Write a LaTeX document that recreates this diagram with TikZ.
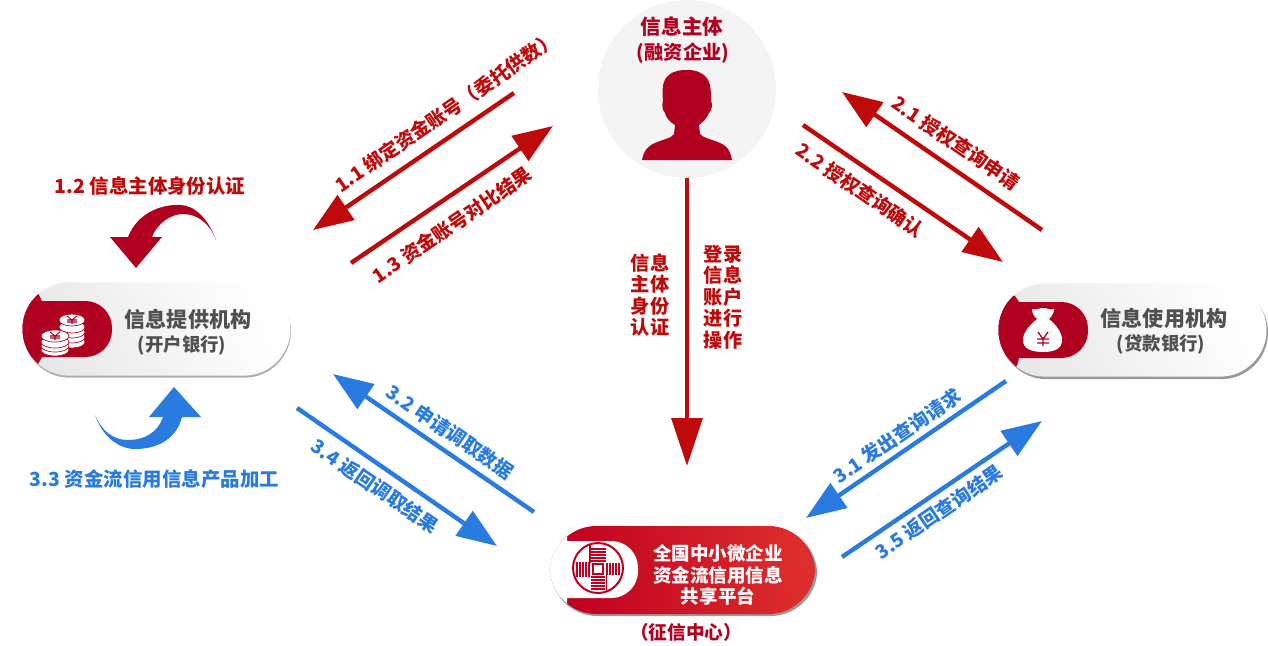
\documentclass[tikz,border=0pt]{standalone}
\usepackage{fontspec}
\setmainfont{Noto Sans CJK SC}
\usetikzlibrary{arrows.meta,calc}
\definecolor{dred}{HTML}{B0001F}
\definecolor{ared}{HTML}{BE0A0A}
\definecolor{lblue}{HTML}{2A7BE0}
\definecolor{gtxt}{HTML}{505050}
\definecolor{pillred}{HTML}{C00020}
\definecolor{pillred2}{HTML}{DC2E2C}
\newcommand{\fpx}[1]{\fontsize{#1}{#1}\selectfont\bfseries}
\tikzset{
  redarrow/.style={draw=ared,line width=3.3pt,-{Triangle[length=30pt,width=22pt]}},
  bluearrow/.style={draw=lblue,line width=3.3pt,-{Triangle[length=30pt,width=22pt]}},
  downarrow/.style={draw=ared,line width=3.3pt,-{Triangle[length=36pt,width=23pt]}},
  redlabel/.style={text=ared,font=\fpx{14.4},inner sep=0pt},
  bluelabel/.style={text=lblue,font=\fpx{14.4},inner sep=0pt},
  vlabel/.style={text=ared,font=\fpx{14.4},inner sep=0pt,align=center},
  pilltitle/.style={text=gtxt,font=\fpx{15.8},inner sep=0pt},
  pillsub/.style={text=gtxt,font=\fpx{13.8},inner sep=0pt},
  pill/.style={rounded corners=35pt,inner sep=0pt,outer sep=0pt,minimum width=201pt,minimum height=70pt,
     left color=black!9,right color=white,shading angle=115},
  pillshadow/.style={fill=black!35,rounded corners=35pt,inner sep=0pt,outer sep=0pt,minimum width=201pt,minimum height=70pt},
}
\begin{document}
\begin{tikzpicture}[x=0.75pt,y=-0.75pt]
\useasboundingbox (0,0) rectangle (1268,646);

% subject circle
\node[circle,fill=black!4.5,draw=none,minimum size=133.5pt,inner sep=0pt] (subject) at (687,89) {};
\fill[dred] (642,160) .. controls (644,150) and (648,146) .. (655,143)
  .. controls (664,139) and (672,138) .. (674,134) -- (675,125)
  .. controls (670,122) and (666,118) .. (665,113)
  .. controls (662,110) and (662,104) .. (663,101)
  .. controls (662,90) and (662,80) .. (669,75)
  .. controls (675,70) and (682,70) .. (687,70)
  .. controls (694,70) and (700,71) .. (706,77)
  .. controls (711,82) and (711,92) .. (711,101)
  .. controls (713,104) and (712,110) .. (709,113)
  .. controls (707,118) and (703,122) .. (699,125) -- (700,134)
  .. controls (703,138) and (711,139) .. (720,143)
  .. controls (727,146) and (730,150) .. (732,160) -- cycle;
\node[text=dred,font=\fpx{15.4},inner sep=0pt] (subjecttitle) at (682,27) {信息主体};
\node[text=dred,font=\fpx{14.4},inner sep=0pt] (subjectsub) at (683,53) {(融资企业)};

% left pill
\node[pillshadow,fill=black!32] (provshadow) at (157,331) {};
\node[pill] (provider) at (156.5,329) {};
\begin{scope}
\clip[rounded corners=35pt] (provider.south west) rectangle (provider.north east);
\fill[dred,rounded corners=20pt] (0,301) rectangle (112,357);
\fill[dred] (38,293) -- (42,301) -- (42,357) -- (38,364) -- (15,372) -- (15,285) -- cycle;
\end{scope}
% coins
\foreach \yy in {342,337,332,327}{\fill[white,draw=dred,line width=.5pt] (72,\yy) ellipse (13 and 6);}
\fill[white,draw=dred,line width=.5pt] (72,320) ellipse (13 and 6);
\foreach \yy in {350,346,342}{\fill[white,draw=dred,line width=.5pt] (55,\yy) ellipse (14 and 6);}
\fill[white,draw=dred,line width=.5pt] (55,336) ellipse (14 and 6);
\draw[dred,line width=.8pt] (67,316)--(72,320)--(77,316) (72,320)--(72,324) (67,320)--(77,320) (67,322)--(77,322);
\draw[dred,line width=.8pt] (50,332)--(55,336)--(60,332) (55,336)--(55,340) (50,336)--(60,336) (50,338)--(60,338);
\node[pilltitle] (providertitle) at (188,319) {信息提供机构};
\node[pillsub] (providersub) at (182,345) {(开户银行)};

% right pill
\node[pillshadow,fill=black!40] (useshadow) at (1134,332.5) {};
\node[pill] (user) at (1132.5,330) {};
\begin{scope}
\clip[rounded corners=35pt] (user.south west) rectangle (user.north east);
\fill[dred,rounded corners=20pt] (960,302) rectangle (1088,358);
\fill[dred] (1015,296) -- (1019,302) -- (1019,358) -- (1017,366) -- (990,372) -- (990,286) -- cycle;
\end{scope}
% money bag
\fill[white] (1032,309) .. controls (1037,311) and (1041,307) .. (1043,308)
  .. controls (1046,307) and (1049,311) .. (1054,309)
  .. controls (1054,313) and (1052,316) .. (1049,319)
  .. controls (1056,325) and (1062,332) .. (1062,340)
  .. controls (1062,349) and (1054,352) .. (1043,352)
  .. controls (1032,352) and (1023,349) .. (1023,340)
  .. controls (1023,332) and (1030,325) .. (1037,319)
  .. controls (1034,316) and (1032,313) .. (1032,309) -- cycle;
\draw[dred,line width=1pt] (1038,332)--(1043,339)--(1048,332) (1043,339)--(1043,346) (1037,339)--(1049,339) (1037,343)--(1049,343);
\node[pilltitle] (usertitle) at (1164,318) {信息使用机构};
\node[pillsub] (usersub) at (1161,344) {(贷款银行)};

% bottom pill
\node[pillshadow,minimum width=200pt,minimum height=66pt,fill=black!40] (platshadow) at (684,572) {};
\node[pill,minimum width=199pt,minimum height=66pt,left color=pillred,right color=pillred2,shading angle=100] (platform) at (682.5,570) {};
\begin{scope}
\clip[rounded corners=35pt] (platform.south west) rectangle (platform.north east);
\fill[white,rounded corners=20pt] (500,541) rectangle (638,598);
\fill[white] (567,520) -- (567,541) -- (567,598) -- (567,620) -- (540,620) -- (540,520) -- cycle;
\end{scope}
% seal
\node[circle,draw=pillred,line width=1.5pt,fill=none,minimum size=37.5pt,inner sep=0pt] (seal) at (598,568) {};
\draw[pillred,line width=1.1pt] (593,564) rectangle (603,574);
\foreach \xx in {577,580,583,586,589}{\draw[pillred,line width=.8pt] (\xx,562)--(\xx,577);}
\foreach \xx in {607,610,613,616,619}{\draw[pillred,line width=.8pt] (\xx,563)--(\xx,575);}
\foreach \yy in {549,552,555,558,561}{\draw[pillred,line width=.8pt] (591,\yy)--(606,\yy);}
\foreach \yy in {577,580,583,586,589}{\draw[pillred,line width=.8pt] (591,\yy)--(605,\yy);}
\draw[pillred,line width=.9pt] (590,545)--(590,563) (606.5,575)--(606.5,592);
\node[text=white,font=\fpx{13.9},inner sep=0pt,align=center] (platformtitle) at (718,575) {全国中小微企业\\[2.2pt]资金流信用信息\\[2.2pt]共享平台};
\node[text=dred,font=\fpx{14},inner sep=0pt] (center) at (686,632) {（征信中心）};

% curved arrows
\fill[dred] (216,240) .. controls (208,218) and (194,205) .. (180,205)
  .. controls (160,204) and (137,214) .. (128,237) -- (110,237) -- (136,268) -- (162,237) -- (152,237)
  .. controls (158,222) and (172,214) .. (183,214)
  .. controls (198,214) and (210,224) .. (216,240) -- cycle;
\fill[lblue] (95,415) .. controls (103,438) and (120,449) .. (135,449)
  .. controls (160,449) and (177,437) .. (182,417) -- (201,417) -- (174,387) -- (149,417) -- (163,417)
  .. controls (158,432) and (145,440) .. (128,440)
  .. controls (113,440) and (102,431) .. (95,415) -- cycle;
\node[text=ared,font=\fpx{14.6},inner sep=0pt] (l12) at (150,186) {1.2 信息主体身份认证};
\node[bluelabel,font=\fpx{14.6}] (l33) at (154.5,479) {3.3 资金流信用信息产品加工};

% connector end points
\coordinate (a11s) at (514,93); \coordinate (a11e) at (313,230);
\coordinate (a13s) at (351,263); \coordinate (a13e) at (553,126);
\coordinate (a21s) at (1042,230); \coordinate (a21e) at (842,92);
\coordinate (a22s) at (803,125); \coordinate (a22e) at (1003,262);
\coordinate (a0s) at (subject.south); \coordinate (a0e) at (687,466);
\coordinate (a32s) at (534,512); \coordinate (a32e) at (333,374);
\coordinate (a34s) at (297,408); \coordinate (a34e) at (497,546);
\coordinate (a31s) at (1006,381); \coordinate (a31e) at (806,518);
\coordinate (a35s) at (842,557); \coordinate (a35e) at (1042,421);
\draw[redarrow] (a11s) -- (a11e);
\draw[redarrow] (a13s) -- (a13e);
\draw[redarrow] (a21s) -- (a21e);
\draw[redarrow] (a22s) -- (a22e);
\draw[downarrow] (a0s) -- (a0e);
\draw[bluearrow] (a32s) -- (a32e);
\draw[bluearrow] (a34s) -- (a34e);
\draw[bluearrow] (a31s) -- (a31e);
\draw[bluearrow] (a35s) -- (a35e);

% connector labels
\node[redlabel,rotate=34.5] (l11) at (446,112) {1.1 绑定资金账号（委托供数）};
\node[redlabel,rotate=34.5] (l13) at (452,225) {1.3 资金账号对比结果};
\node[redlabel,rotate=-34.5] (l21) at (956,143) {2.1 授权查询申请};
\node[redlabel,rotate=-34.5] (l22) at (860,190) {2.2 授权查询确认};
\node[bluelabel,rotate=-34.5] (l32) at (450,432) {3.2 申请调取数据};
\node[bluelabel,rotate=-34.5] (l34) at (375,486) {3.4 返回调取结果};
\node[bluelabel,rotate=34.5] (l31) at (897,436) {3.1 发出查询请求};
\node[bluelabel,rotate=34.5] (l35) at (939,512) {3.5 返回查询结果};
\node[vlabel] (v1) at (650,295) {信息\\[1.7pt]主体\\[1.7pt]身份\\[1.7pt]认证};
\node[vlabel] (v2) at (723,297) {登录\\[1.7pt]信息\\[1.7pt]账户\\[1.7pt]进行\\[1.7pt]操作};
\end{tikzpicture}
\end{document}
